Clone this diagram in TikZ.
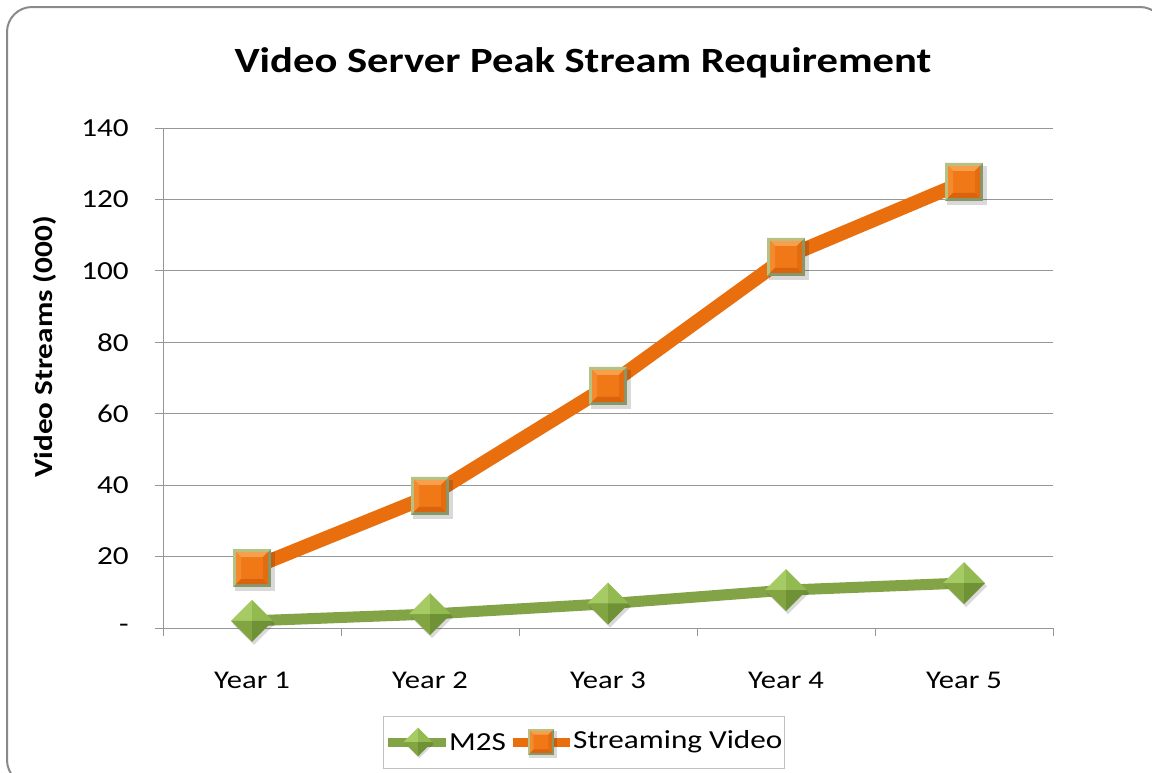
\documentclass[tikz,border=0pt]{standalone}
\usepackage{fontspec}
\setmainfont{Carlito}[FakeStretch=1.2]
\definecolor{orline}{HTML}{E96F0E}
\definecolor{grline}{HTML}{82A346}
\definecolor{gridc}{HTML}{969696}
\definecolor{framec}{HTML}{8A8A8A}
\definecolor{sqborderA}{HTML}{B6C283}
\definecolor{sqborderB}{HTML}{87976A}
\definecolor{orA}{HTML}{F07816}
\definecolor{orTop}{HTML}{F6A04E}
\definecolor{orLeft}{HTML}{F38A2E}
\definecolor{orBot}{HTML}{DA640D}
\definecolor{orRight}{HTML}{E46C10}
\definecolor{grTL}{HTML}{A6CA64}
\definecolor{grTR}{HTML}{93B951}
\definecolor{grBL}{HTML}{82A542}
\definecolor{grBR}{HTML}{709236}
\tikzset{
  frameline/.style={draw=framec,line width=2pt,rounded corners=25pt},
  gridline/.style={draw=gridc,line width=1pt},
  ticklabel/.style={font=\fontsize{26}{26}\selectfont,anchor=east,inner sep=0pt},
  catlabel/.style={font=\fontsize{25.5}{25.5}\selectfont,inner sep=0pt},
  seriesor/.style={draw=orline,line width=14pt,line join=round},
  seriesgr/.style={draw=grline,line width=11pt,line join=round},
  sqmark/.pic={
    \begin{scope}[scale=#1]
    \fill[black,opacity=.15] (-17,-16) rectangle (23,23);
    \fill[sqborderB] (-19,-19) rectangle (19,19);
    \fill[sqborderA] (-19,-19) -- (19,-19) -- (16,-16) -- (-16,-16) -- (-16,16) -- (-19,19) -- cycle;
    \fill[orA] (-16,-16) rectangle (16,16);
    \fill[orTop] (-16,-16) -- (16,-16) -- (11,-11) -- (-11,-11) -- cycle;
    \fill[orLeft] (-16,-16) -- (-11,-11) -- (-11,11) -- (-16,16) -- cycle;
    \fill[orBot] (-16,16) -- (16,16) -- (11,11) -- (-11,11) -- cycle;
    \fill[orRight] (16,-16) -- (11,-11) -- (11,11) -- (16,16) -- cycle;
    \end{scope}
  },
  dmmark/.pic={
    \begin{scope}[scale=#1]
    \fill[black,opacity=.15] (2,-18) -- (23,3) -- (2,24) -- (-19,3) -- cycle;
    \fill[grTL] (0,0) -- (-21,0) -- (0,-21) -- cycle;
    \fill[grTR] (0,0) -- (0,-21) -- (21,0) -- cycle;
    \fill[grBL] (0,0) -- (-21,0) -- (0,21) -- cycle;
    \fill[grBR] (0,0) -- (21,0) -- (0,21) -- cycle;
    \end{scope}
  }
}
\begin{document}
\begin{tikzpicture}[x=1pt,y=-1pt]
\useasboundingbox (0,0) rectangle (1152,772);
\fill[white] (0,0) rectangle (1152,772);
\draw[frameline] (7,7) rectangle (1165,785);
% title
\node[font=\fontsize{35.5}{35.5}\selectfont\bfseries,inner sep=0pt] (title) at (583,63) {Video Server Peak Stream Requirement};
% grid
\foreach \v/\lab [count=\i] in {0/-,20/20,40/40,60/60,80/80,100/100,120/120,140/140}{
  \pgfmathsetmacro{\yy}{628-\v*3.5714286}
  \draw[gridline] (155,\yy) -- (1053,\yy);
  \node[ticklabel] (yl\i) at (129,\yy) {\lab};
}
\draw[gridline] (163,128) -- (163,636);
\foreach \xx in {341,519,697,875,1053}{
  \draw[gridline] (\xx,628) -- (\xx,636);
}
\foreach \lab/\xx [count=\i] in {Year 1/252,Year 2/430,Year 3/608,Year 4/786,Year 5/964}{
  \node[catlabel] (xl\i) at (\xx,680) {\lab};
}
\node[font=\fontsize{26}{26}\selectfont\bfseries,rotate=90,inner sep=0pt] (ytitle) at (45,347) {Video Streams (000)};
% data
\foreach \v/\xx [count=\i] in {2.0/252,3.9/430,6.8/608,10.6/786,12.6/964}{
  \coordinate (g\i) at (\xx,{628-\v*3.5714286});
}
\foreach \v/\xx [count=\i] in {16.8/252,37/430,67.8/608,103.9/786,124.9/964}{
  \coordinate (o\i) at (\xx,{628-\v*3.5714286});
}
\draw[seriesgr] (g1) -- (g2) -- (g3) -- (g4) -- (g5);
\draw[seriesor] (o1) -- (o2) -- (o3) -- (o4) -- (o5);
\foreach \i in {1,...,5}{
  \pic at (g\i) {dmmark=1};
  \pic at (o\i) {sqmark=1};
}
% legend
\node[draw=gridc!60,line width=1pt,minimum width=401pt,minimum height=52pt,inner sep=0pt] (legend) at (584,742) {};
\coordinate (lg1) at (388,742);
\coordinate (lg2) at (446,742);
\coordinate (lo1) at (513,742);
\coordinate (lo2) at (570,742);
\draw[seriesgr,line width=9pt] (lg1) -- (lg2);
\pic at (418,742) {dmmark=0.68};
\draw[seriesor,line width=9pt] (lo1) -- (lo2);
\pic at (541,742) {sqmark=0.68};
\node[font=\fontsize{26}{26}\selectfont,anchor=west,inner sep=0pt] (lm2s) at (449,742) {M2S};
\node[font=\fontsize{26}{26}\selectfont,anchor=west,inner sep=0pt] (lsv) at (573,742) {Streaming Video};
\end{tikzpicture}
\end{document}
